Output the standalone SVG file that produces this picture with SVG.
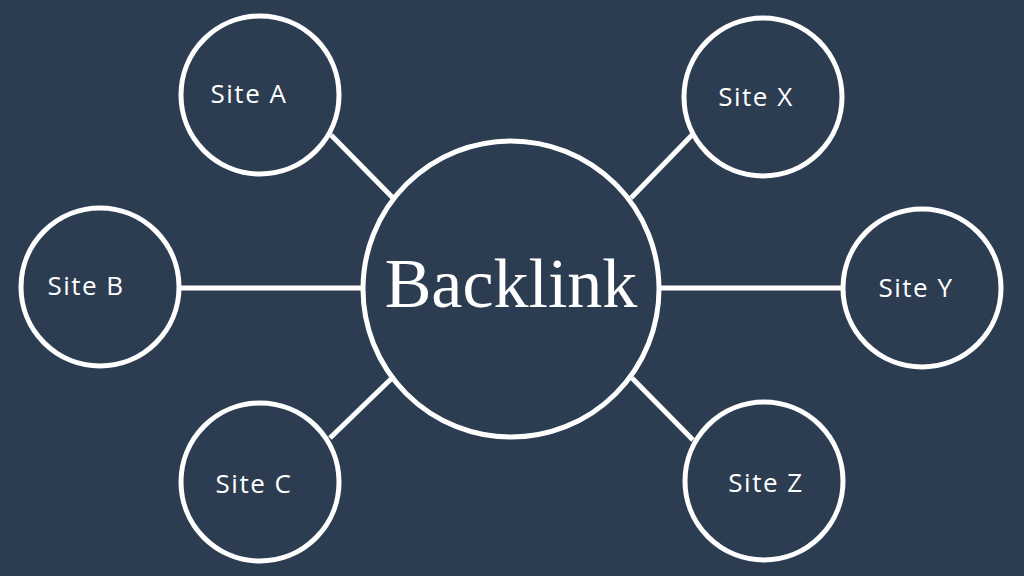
<svg xmlns="http://www.w3.org/2000/svg" width="1024" height="576" viewBox="0 0 1024 576">
<style>
.n{fill:none;stroke:#ffffff;stroke-width:5}
.c line{stroke:#ffffff;stroke-width:5}
.t{fill:#ffffff;font-family:"Comic Sans MS","Open Sans",sans-serif;font-size:26px;letter-spacing:1.5px;text-anchor:middle}
.m{fill:#ffffff;font-family:"Liberation Serif",serif;font-size:70px;text-anchor:middle}
</style>
<rect width="1024" height="576" fill="#2c3d51"/>
<g class="c" id="connectors">
<line x1="331" y1="135" x2="393" y2="198"/>
<line x1="181" y1="288" x2="363" y2="288"/>
<line x1="330" y1="438" x2="392" y2="378"/>
<line x1="692" y1="135" x2="631" y2="198"/>
<line x1="658" y1="288" x2="842" y2="288"/>
<line x1="693" y1="440" x2="632" y2="378"/>
</g>
<g id="backlink"><circle class="n" cx="511" cy="289" r="148"/><text class="m" x="511" y="307">Backlink</text></g>
<g id="siteA"><circle class="n" cx="260" cy="95" r="79"/><text class="t" x="249" y="103">Site A</text></g>
<g id="siteB"><circle class="n" cx="100" cy="287" r="79"/><text class="t" x="86" y="295">Site B</text></g>
<g id="siteC"><circle class="n" cx="260" cy="482" r="79"/><text class="t" x="254" y="493">Site C</text></g>
<g id="siteX"><circle class="n" cx="763" cy="97" r="79"/><text class="t" x="756" y="106">Site X</text></g>
<g id="siteY"><circle class="n" cx="922" cy="288" r="79"/><text class="t" x="916" y="297">Site Y</text></g>
<g id="siteZ"><circle class="n" cx="764" cy="481" r="79"/><text class="t" x="766" y="492">Site Z</text></g>
</svg>
